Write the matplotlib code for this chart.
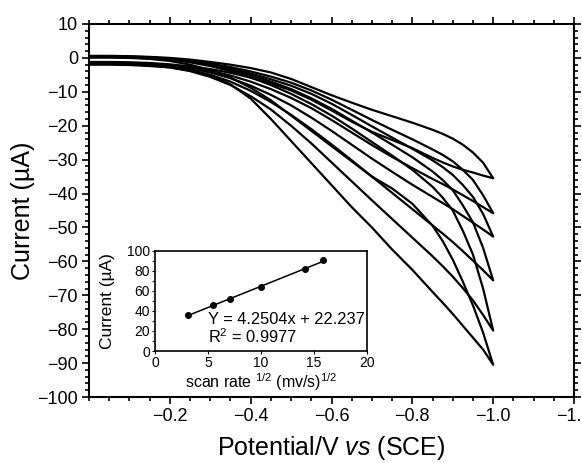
import numpy as np
import matplotlib
matplotlib.use("Agg")
import matplotlib.pyplot as plt
from matplotlib.ticker import MultipleLocator

plt.rcParams['font.family'] = ['Liberation Sans', 'DejaVu Sans']
plt.rcParams['mathtext.fontset'] = 'custom'
plt.rcParams['mathtext.rm'] = 'Liberation Sans'
plt.rcParams['mathtext.it'] = 'Liberation Sans:italic'

pot = [0, -0.05, -0.1, -0.15, -0.2, -0.25, -0.3, -0.35, -0.4, -0.45, -0.5,
       -0.55, -0.6, -0.65, -0.7, -0.75, -0.8, -0.85, -0.875, -0.9, -0.925,
       -0.95, -0.975, -1.0]

# return (upper) and forward (lower) branch of each CV loop, uA
up_a = [0.6, 0.6, 0.5, 0.3, 0.0, -0.5, -1.2, -2.0, -3.0, -4.3, -6.2,
        -8.6, -11.0, -13.2, -15.3, -17.2, -19.1, -21.2, -22.4, -23.8, -25.6,
        -27.9, -30.9, -35.5]
lo_a = [-1.2, -1.2, -1.3, -1.5, -1.9, -2.5, -3.3, -4.4, -5.8, -7.5, -9.6,
        -12.3, -15.5, -18.8, -21.8, -24.2, -26.6, -29.5, -30.8, -32.0, -33.0,
        -33.8, -34.7, -35.5]
up_b = [0.5, 0.5, 0.4, 0.2, -0.2, -0.8, -1.6, -2.7, -4.0, -5.5, -7.3,
        -9.6, -12.3, -15.3, -18.3, -21.2, -24.0, -27.0, -28.6, -30.5, -33.0,
        -36.0, -40.5, -45.8]
lo_b = [-1.4, -1.4, -1.5, -1.7, -2.1, -2.8, -3.8, -5.2, -7.0, -9.2, -11.8,
        -14.8, -18.3, -22.0, -25.7, -29.2, -32.5, -35.7, -37.2, -38.8, -40.5,
        -42.2, -44.0, -45.8]
up_c = [0.4, 0.4, 0.3, 0.1, -0.3, -1.0, -1.9, -3.1, -4.6, -6.3, -8.2,
        -10.6, -13.5, -16.8, -20.2, -23.5, -26.8, -30.2, -32.2, -34.5, -37.5,
        -41.0, -46.0, -52.7]
lo_c = [-1.5, -1.5, -1.6, -1.8, -2.3, -3.1, -4.3, -6.0, -8.2, -10.9, -14.0,
        -17.6, -21.5, -25.6, -29.7, -33.6, -37.4, -41.0, -42.8, -44.6, -46.6,
        -48.6, -50.6, -52.7]
up_d = [0.3, 0.3, 0.2, 0.0, -0.4, -1.1, -2.1, -3.5, -5.1, -7.0, -9.2,
        -11.9, -15.0, -18.5, -22.0, -25.6, -29.3, -33.5, -36.0, -39.0, -43.5,
        -48.5, -56.0, -65.6]
lo_d = [-1.6, -1.6, -1.7, -2.0, -2.5, -3.5, -5.0, -7.0, -9.7, -13.0, -16.8,
        -21.0, -25.5, -30.2, -35.0, -39.8, -44.6, -49.4, -51.8, -54.3, -57.0,
        -59.8, -62.6, -65.6]
up_e = [0.2, 0.2, 0.1, -0.1, -0.5, -1.3, -2.4, -3.9, -5.8, -8.0, -10.6,
        -13.6, -17.0, -20.8, -24.8, -28.8, -33.0, -38.0, -41.2, -45.0, -51.0,
        -58.0, -68.0, -80.4]
lo_e = [-1.8, -1.8, -1.9, -2.2, -2.8, -3.9, -5.6, -8.0, -11.3, -15.2, -20.0,
        -25.2, -30.8, -36.4, -42.0, -47.5, -53.0, -58.5, -61.4, -64.5, -67.9,
        -71.5, -75.8, -80.4]
up_f = [0.1, 0.1, 0.0, -0.3, -0.9, -2.0, -3.6, -5.8, -8.8, -12.5, -17.0,
        -21.5, -26.0, -30.5, -35.0, -38.5, -43.0, -49.5, -54.0, -59.5, -66.0,
        -73.0, -81.0, -90.5]
lo_f = [-2.0, -2.0, -2.1, -2.4, -2.8, -3.7, -5.2, -7.8, -12.0, -18.0, -24.5,
        -31.0, -37.5, -44.0, -50.0, -56.5, -62.5, -69.0, -72.2, -75.5, -79.0,
        -82.5, -86.0, -90.5]

loops = [(up_a, lo_a), (up_b, lo_b), (up_c, lo_c),
         (up_d, lo_d), (up_e, lo_e), (up_f, lo_f)]

# inset: peak current vs sqrt(scan rate)
sq_rate = [3.16, 5.48, 7.07, 10.0, 14.14, 15.81]
i_peak = [35.7, 46.0, 52.0, 64.0, 81.5, 91.0]
slope, icept = 4.2504, 22.237

fig = plt.figure(figsize=(5.82, 4.63), dpi=100)
ax = fig.add_axes([0.1529, 0.1425, 0.8334, 0.8057])

for up, lo in loops:
    xs = pot + pot[::-1]
    ys = lo + up[::-1]
    ax.plot(xs, ys, color='black', lw=1.6, solid_joinstyle='round')

ax.set_xlim(0, -1.2)
ax.set_ylim(-100, 10)
ax.set_xticks([-0.2, -0.4, -0.6, -0.8, -1.0, -1.2])
ax.set_xticklabels(['\u22120.2', '\u22120.4', '\u22120.6', '\u22120.8', '\u22121.0', '\u22121.2'])
ax.xaxis.set_minor_locator(MultipleLocator(0.05))
ax.set_yticks(np.arange(-100, 11, 10))
ax.yaxis.set_minor_locator(MultipleLocator(2))
ax.tick_params(which='both', direction='out', top=True, right=True, labelsize=13, width=1.2)
ax.tick_params(which='major', length=5, pad=3)
ax.tick_params(which='minor', length=3)
for s in ax.spines.values():
    s.set_linewidth(1.5)
ax.set_xlabel('Potential/V $\\mathit{vs}$ (SCE)', fontsize=18)
ax.xaxis.set_label_coords(0.5, -0.1)
ax.set_ylabel('Current (\u00b5A)', fontsize=18)
ax.yaxis.set_label_coords(-0.112, 0.5)

ins = fig.add_axes([0.2663, 0.2419, 0.3643, 0.216])
ins.plot(sq_rate, i_peak, 'o', color='black', ms=4)
fx = np.array([sq_rate[0], sq_rate[-1]])
ins.plot(fx, slope * fx + icept, color='black', lw=1.1)
ins.set_xlim(0, 20)
ins.set_ylim(0, 100)
ins.set_xticks([0, 5, 10, 15, 20])
ins.set_yticks([0, 20, 40, 60, 80, 100])
ins.yaxis.set_minor_locator(MultipleLocator(10))
ins.tick_params(which='both', direction='out', labelsize=10, length=2.5, pad=1)
for s in ins.spines.values():
    s.set_linewidth(1.2)
ins.set_xlabel('scan rate $^{1/2}$ (mv/s)$^{1/2}$', fontsize=11.5)
ins.xaxis.set_label_coords(0.5, -0.2)
ins.set_ylabel('Current (\u00b5A)', fontsize=12.5)
ins.yaxis.set_label_coords(-0.19, 0.5)
ins.text(5.0, 31, 'Y = 4.2504x + 22.237', fontsize=11.8, va='center')
ins.text(5.0, 14, 'R$^2$ = 0.9977', fontsize=11.8, va='center')

fig.savefig('out.png', dpi=100)
